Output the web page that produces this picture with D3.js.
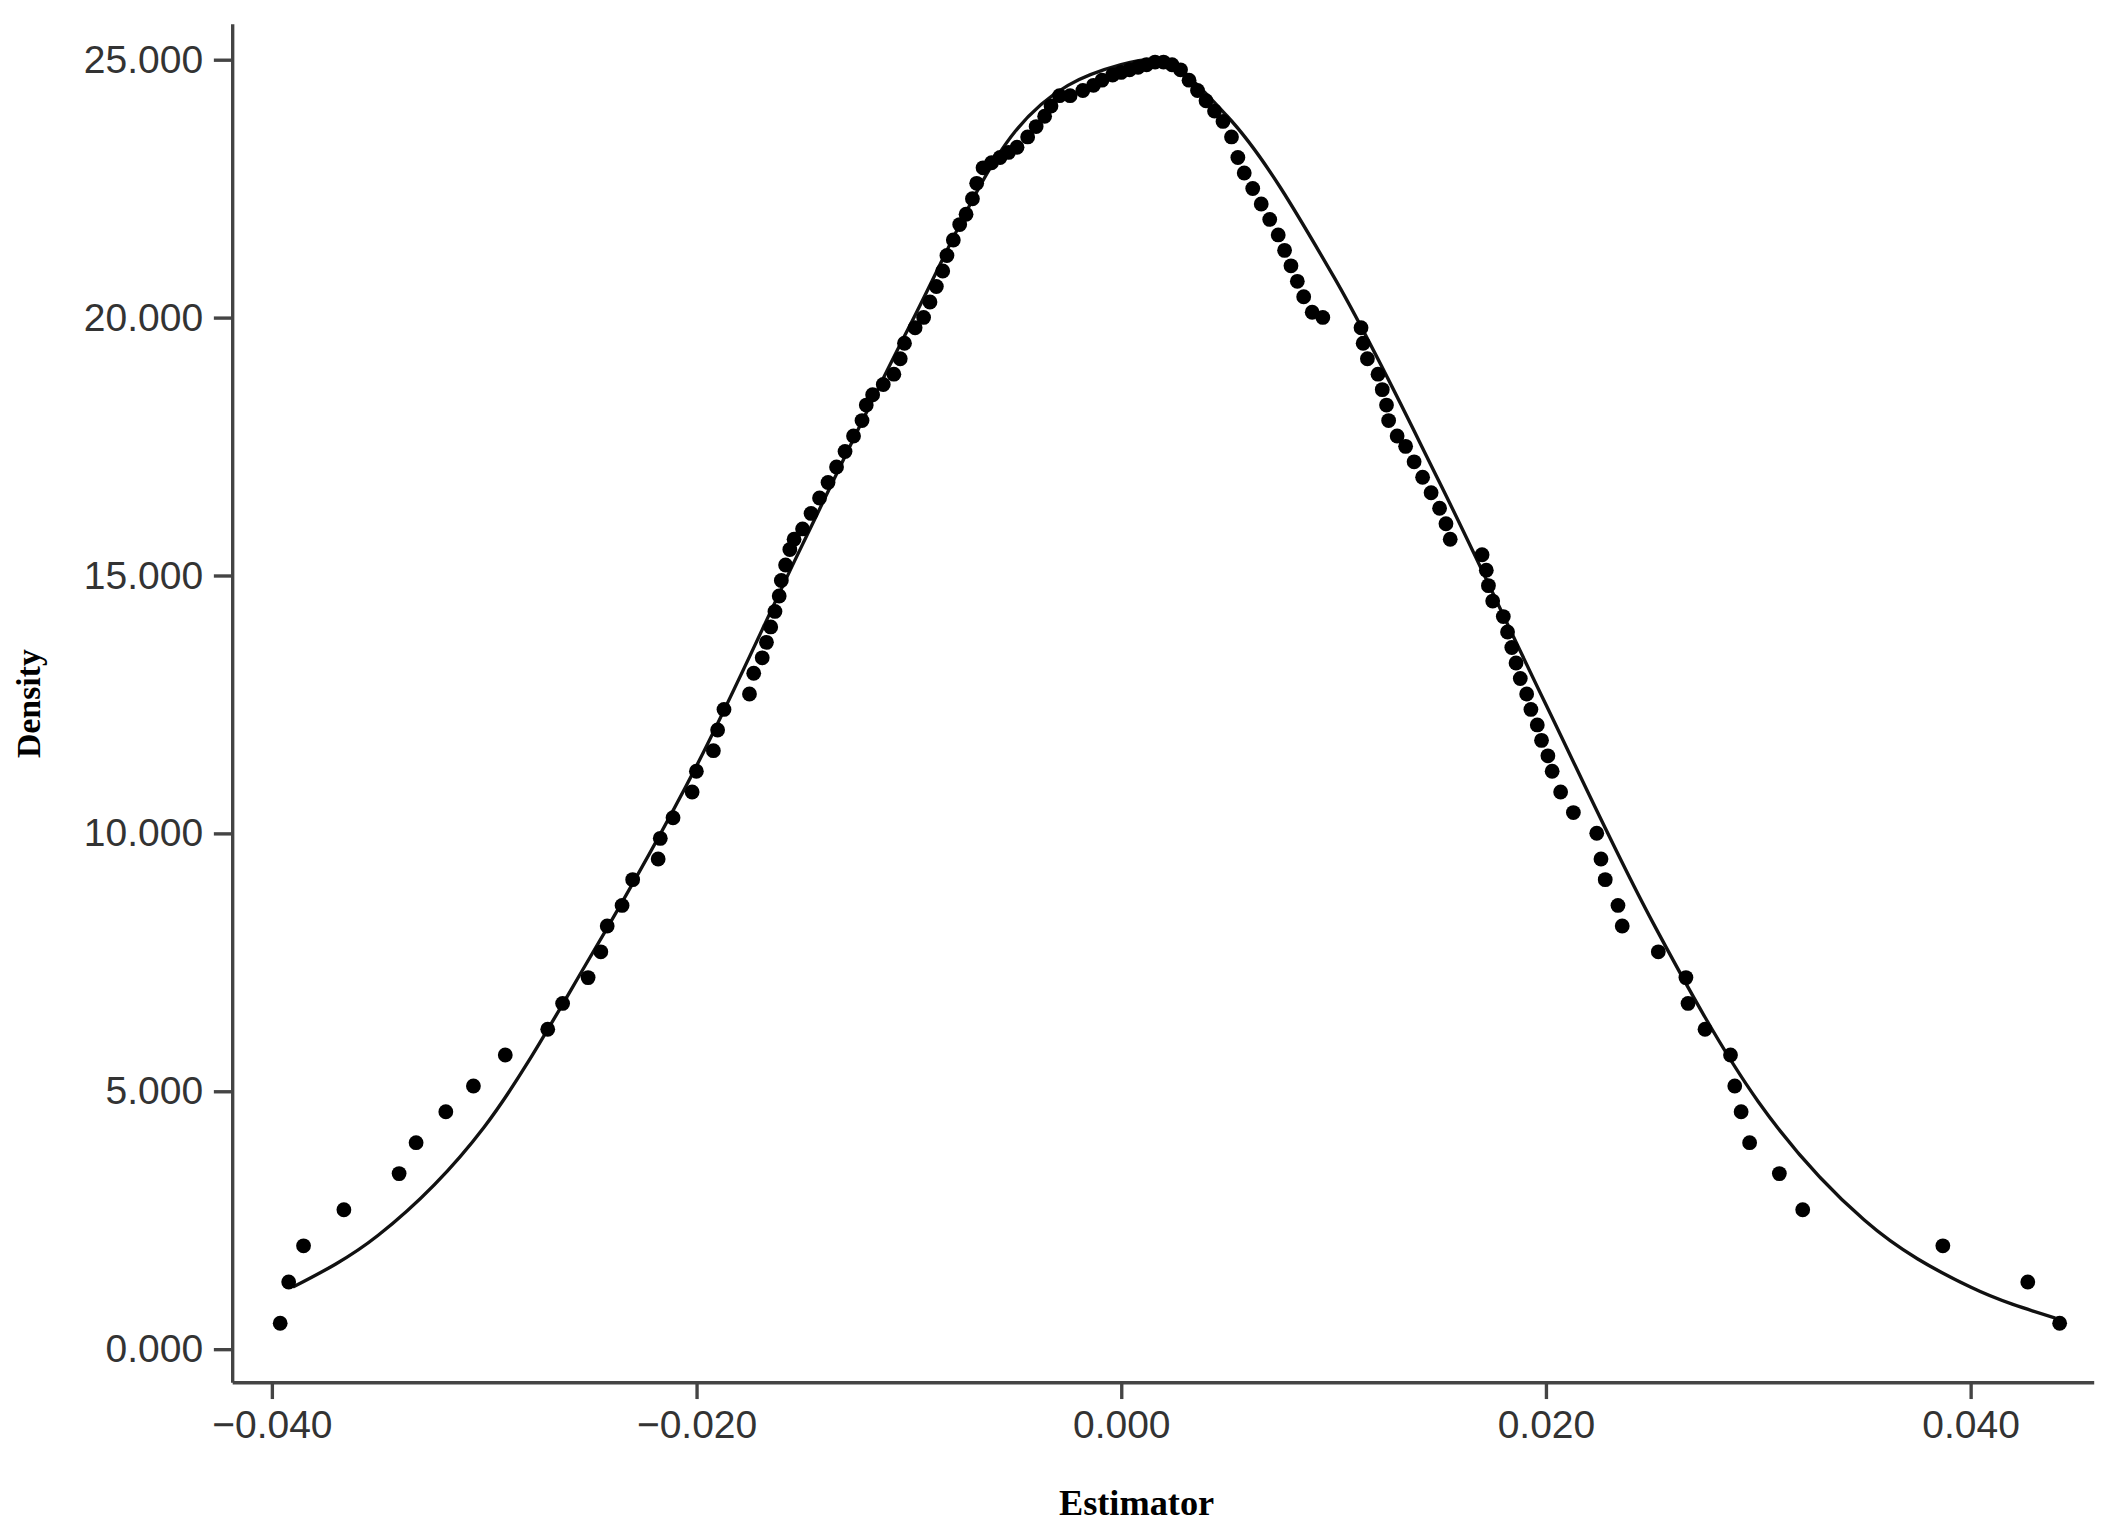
<!DOCTYPE html>
<html><head><meta charset="utf-8">
<script src="https://cdn.jsdelivr.net/npm/d3@7"></script>
<style>body{margin:0;background:#fff}</style>
</head><body>
<svg id="chart" width="2109" height="1533" viewBox="0 0 1568 1133" preserveAspectRatio="none"></svg>
<script>
var xTicks = [-0.04, -0.02, 0, 0.02, 0.04];
var yTicks = [0, 5, 10, 15, 20, 25];

var curveX = [-0.0390, -0.035, -0.030, -0.025, -0.020, -0.015, -0.010, -0.005, 0.000, 0.0015, 0.005, 0.010, 0.015, 0.020, 0.025, 0.030, 0.035, 0.040, 0.044];
var curveY = [1.2, 2.2, 4.3, 7.6, 11.3, 15.6, 19.8, 23.6, 24.9, 25.0, 23.9, 20.8, 16.8, 12.5, 8.3, 4.8, 2.5, 1.2, 0.6];

var dotX = [-0.0396, -0.0392, -0.0385, -0.0366, -0.034, -0.0332, -0.0318, -0.0305, -0.029, -0.027, -0.0263, -0.0251, -0.0245, -0.0242, -0.0235, -0.023, -0.0218, -0.0217, -0.0211, -0.0202, -0.02, -0.0192, -0.019, -0.0187, -0.0175, -0.0173, -0.0169, -0.0167,
  -0.0165, -0.0163, -0.0161, -0.0160, -0.0158, -0.0156, -0.0154, -0.0150, -0.0146, -0.0142, -0.0138, -0.0134, -0.0130, -0.0126, -0.0122, -0.0120, -0.0117, -0.0112, -0.0107, -0.0104, -0.0102, -0.0097, -0.0093, -0.0090, -0.0087, -0.0084, -0.0082, -0.0079, -0.0076, -0.0073, -0.0070, -0.0068, -0.0065, -0.0061, -0.0057, -0.0053, -0.0049, -0.0044, -0.0040, -0.0036, -0.0033, -0.0029, -0.0024, -0.0018, -0.0013, -0.0009, -0.0004, 0.0000, 0.0004, 0.0008, 0.0012, 0.0016, 0.0020, 0.0024, 0.0028, 0.0032, 0.0036, 0.0040, 0.0044, 0.0048, 0.0052, 0.0055, 0.0058, 0.0062, 0.0066, 0.0070, 0.0074, 0.0077, 0.0080, 0.0083, 0.0086, 0.0090, 0.0095,
  0.0113, 0.0114, 0.0116, 0.0121, 0.0123, 0.0125, 0.0126, 0.0130, 0.0134, 0.0138, 0.0142, 0.0146, 0.0150, 0.0153, 0.0155, 0.0170, 0.0172, 0.0173, 0.0175, 0.0180, 0.0182, 0.0184, 0.0186, 0.0188, 0.0191, 0.0193, 0.0196, 0.0198, 0.0201, 0.0203, 0.0207, 0.0213, 0.0224, 0.0226, 0.0228, 0.0234, 0.0236,
  0.0253, 0.0266, 0.0267, 0.0275, 0.0287, 0.0289, 0.0292, 0.0296, 0.031, 0.0321, 0.0387, 0.0427, 0.0442];
var dotY = [0.5, 1.3, 2.0, 2.7, 3.4, 4.0, 4.6, 5.1, 5.7, 6.2, 6.7, 7.2, 7.7, 8.2, 8.6, 9.1, 9.5, 9.9, 10.3, 10.8, 11.2, 11.6, 12.0, 12.4, 12.7, 13.1, 13.4, 13.7,
  14.0, 14.3, 14.6, 14.9, 15.2, 15.5, 15.7, 15.9, 16.2, 16.5, 16.8, 17.1, 17.4, 17.7, 18.0, 18.3, 18.5, 18.7, 18.9, 19.2, 19.5, 19.8, 20.0, 20.3, 20.6, 20.9, 21.2, 21.5, 21.8, 22.0, 22.3, 22.6, 22.9, 23.0, 23.1, 23.2, 23.3, 23.5, 23.7, 23.9, 24.1, 24.3, 24.3, 24.4, 24.5, 24.6, 24.7, 24.75, 24.8, 24.85, 24.9, 24.95, 24.95, 24.9, 24.8, 24.6, 24.4, 24.2, 24.0, 23.8, 23.5, 23.1, 22.8, 22.5, 22.2, 21.9, 21.6, 21.3, 21.0, 20.7, 20.4, 20.1, 20.0,
  19.8, 19.5, 19.2, 18.9, 18.6, 18.3, 18.0, 17.7, 17.5, 17.2, 16.9, 16.6, 16.3, 16.0, 15.7, 15.4, 15.1, 14.8, 14.5, 14.2, 13.9, 13.6, 13.3, 13.0, 12.7, 12.4, 12.1, 11.8, 11.5, 11.2, 10.8, 10.4, 10.0, 9.5, 9.1, 8.6, 8.2,
  7.7, 7.2, 6.7, 6.2, 5.7, 5.1, 4.6, 4.0, 3.4, 2.7, 2.0, 1.3, 0.5];

var svg = d3.select("#chart");
var x = d3.scaleLinear().domain([-0.04, 0.04]).range([202, 1465]);
var y = d3.scaleLinear().domain([0, 25]).range([997, 44]);

var xAxis = svg.append("g").attr("transform", "translate(0,1022)")
  .call(d3.axisBottom(x).tickValues(xTicks).tickSize(12).tickSizeOuter(0)
    .tickFormat(function(d){ return d3.format(".3f")(d).replace("-", "\u2212"); }));
var yAxis = svg.append("g").attr("transform", "translate(173,0)")
  .call(d3.axisLeft(y).tickValues(yTicks).tickSize(14).tickSizeOuter(0).tickFormat(d3.format(".3f")));
[xAxis, yAxis].forEach(function(a){
  a.selectAll("path,line").attr("stroke", "#444").attr("stroke-width", 2.5);
  a.selectAll("text").attr("font-family", "Liberation Sans, Arial, sans-serif").attr("font-size", 29).attr("fill", "#333");
});
xAxis.select(".domain").attr("d", "M173,0H1557");
yAxis.select(".domain").attr("d", "M0,18V1022");
xAxis.selectAll("text").attr("dy", "0.9em");
yAxis.selectAll("text").attr("x", -22);

svg.append("text").attr("x", 845).attr("y", 1120).attr("text-anchor", "middle")
  .attr("font-family", "Liberation Serif, Times New Roman, serif").attr("font-weight", "bold").attr("font-size", 27).text("Estimator");
svg.append("text").attr("transform", "translate(30,520) rotate(-90)").attr("text-anchor", "middle")
  .attr("font-family", "Liberation Serif, Times New Roman, serif").attr("font-weight", "bold").attr("font-size", 25).text("Density");

var line = d3.line().x(function(d, i){ return x(curveX[i]); }).y(function(d, i){ return y(curveY[i]); }).curve(d3.curveMonotoneX);
svg.append("path").attr("d", line(curveX)).attr("fill", "none").attr("stroke", "#111").attr("stroke-width", 2.5);

svg.selectAll("circle.dot").data(dotX).enter().append("circle").attr("class", "dot")
  .attr("cx", function(d){ return x(d); })
  .attr("cy", function(d, i){ return y(dotY[i]); })
  .attr("r", 5.5).attr("fill", "#000");
</script>
</body></html>
